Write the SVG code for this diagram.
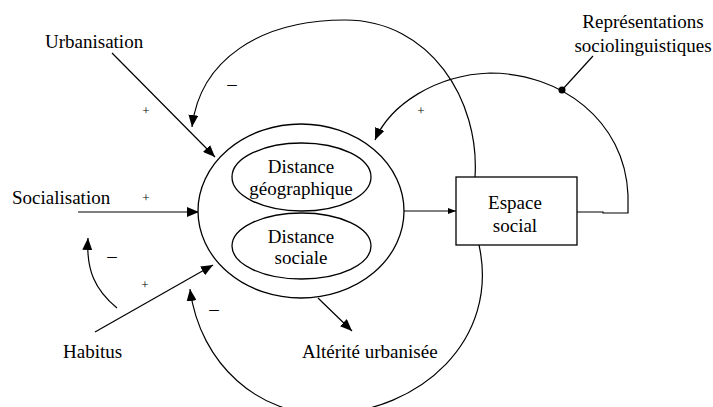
<svg xmlns="http://www.w3.org/2000/svg" width="713" height="407" viewBox="0 0 713 407" font-family="'Liberation Serif', serif">
  <style>
    text { font-family: 'Liberation Serif', 'Times New Roman', serif; font-size: 19px; fill: #000; }
    .mid { text-anchor: middle; }
    .sign { font-size: 13px; text-anchor: middle; }
    .dash { text-anchor: middle; }
    .shape { fill: #fff; stroke: #000; stroke-width: 1.3; }
    .link { fill: none; stroke: #000; stroke-width: 1.2; }
    .arrow { marker-end: url(#head); }
  </style>
  <defs>
    <marker id="head" viewBox="0 0 12 10" refX="12" refY="5" markerWidth="12" markerHeight="10" markerUnits="userSpaceOnUse" orient="auto">
      <path d="M0,0 L12,5 L0,10 Z" fill="#000"/>
    </marker>
    <marker id="headSmall" viewBox="0 0 8 6" refX="8" refY="3" markerWidth="8" markerHeight="6" markerUnits="userSpaceOnUse" orient="auto">
      <path d="M0,0 L8,3 L0,6 Z" fill="#000"/>
    </marker>
  </defs>

  <!-- connectors -->
  <g id="connectors">
    <!-- Urbanisation -> distances -->
    <line class="link arrow" x1="112" y1="53" x2="215" y2="157"/>
    <!-- Socialisation -> distances -->
    <line class="link arrow" x1="78" y1="212" x2="199" y2="212"/>
    <!-- Habitus -> distances -->
    <line class="link arrow" x1="95" y1="332" x2="213" y2="265"/>
    <!-- Habitus -> Socialisation -->
    <path class="link arrow" d="M117,308 C95,290 86,270 88,238"/>
    <!-- distances -> Espace social -->
    <line class="link" x1="404" y1="211" x2="456" y2="211" marker-end="url(#headSmall)"/>
    <!-- distances -> Altérité urbanisée -->
    <line class="link arrow" x1="318" y1="298" x2="352" y2="331"/>
    <!-- Espace social feedback, upper loop -->
    <path class="link arrow" d="M475,177 C480,100 430,20 345,20 C260,20 200,60 192,127"/>
    <!-- Espace social feedback, lower loop -->
    <path class="link arrow" d="M479,245 C500,340 420,412 327,414 C260,416 200,365 190,289"/>
    <!-- Espace social feedback through the representations -->
    <path class="link arrow" d="M577,212 L603,212 L603,213 L628,213 L628,195 C625,120 560,73 490,73 C435,75 390,105 375,140"/>
    <!-- Représentations sociolinguistiques attached to the loop -->
    <line class="link" x1="593" y1="56" x2="562" y2="90"/>
    <circle cx="562" cy="90" r="3.5" fill="#000"/>
  </g>

  <!-- polarity signs -->
  <g id="signs">
    <text class="sign" x="146" y="115">+</text>
    <text class="dash" x="232" y="90">–</text>
    <text class="sign" x="146" y="202">+</text>
    <text class="dash" x="112" y="262">–</text>
    <text class="sign" x="145" y="289">+</text>
    <text class="dash" x="214" y="315">–</text>
    <text class="sign" x="421" y="115">+</text>
  </g>

  <g id="distances">
    <ellipse class="shape" cx="301" cy="211" rx="103" ry="87"/>
    <g id="distance-geographique">
      <ellipse class="shape" cx="301.5" cy="177" rx="69.5" ry="34"/>
      <text class="mid" x="301" y="173">Distance</text>
      <text class="mid" x="301" y="195">géographique</text>
    </g>
    <g id="distance-sociale">
      <ellipse class="shape" cx="301.5" cy="246" rx="69.5" ry="33"/>
      <text class="mid" x="301" y="243">Distance</text>
      <text class="mid" x="301" y="264">sociale</text>
    </g>
  </g>

  <g id="espace-social">
    <rect class="shape" x="456" y="177" width="121" height="68"/>
    <text class="mid" x="515" y="209">Espace</text>
    <text class="mid" x="515" y="232">social</text>
  </g>

  <g id="urbanisation">
    <text x="45" y="48">Urbanisation</text>
  </g>
  <g id="socialisation">
    <text x="12" y="204">Socialisation</text>
  </g>
  <g id="habitus">
    <text x="63" y="358">Habitus</text>
  </g>
  <g id="alterite">
    <text x="302" y="358">Altérité urbanisée</text>
  </g>
  <g id="representations">
    <text class="mid" x="643" y="28">Représentations</text>
    <text class="mid" x="643" y="52">sociolinguistiques</text>
  </g>
</svg>
